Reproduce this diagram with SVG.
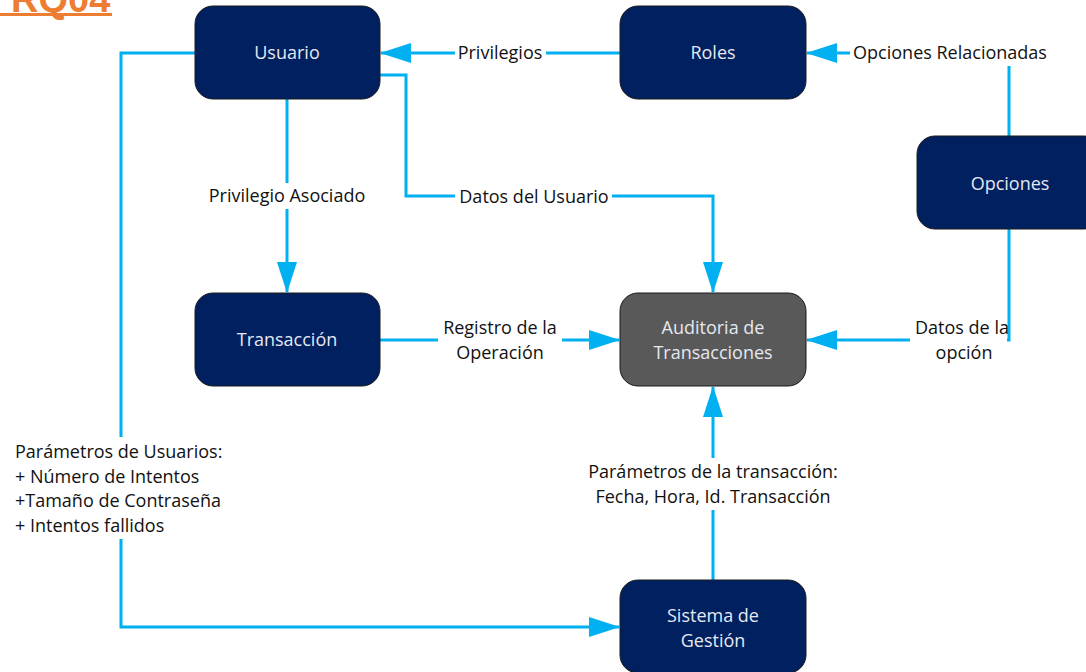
<svg xmlns="http://www.w3.org/2000/svg" width="1086" height="672" viewBox="0 0 1086 672">
<defs>
<marker id="ah" markerUnits="userSpaceOnUse" markerWidth="31" markerHeight="20" refX="30" refY="10" orient="auto">
<path d="M0,0 L31,10 L0,20 Z" fill="#00B0F0"/>
</marker>
<style>
.node{fill:#002060;stroke:#1a1a1a;stroke-width:1}
.gray{fill:#595959;stroke:#1a1a1a;stroke-width:1}
.nt{font-family:"Open Sans","Liberation Sans",sans-serif;font-size:18px;fill:#E6E8F0;text-anchor:middle}
.conn{fill:none;stroke:#00B0F0;stroke-width:3}
.lbg{fill:#ffffff}
.lt{font-family:"Open Sans","Liberation Sans",sans-serif;font-size:18px;fill:#111111;text-anchor:middle}
</style>
</defs>
<rect width="1086" height="672" fill="#ffffff"/>
<g id="title">
<text x="11" y="12" font-family="Liberation Sans, Arial, sans-serif" font-size="38" font-weight="bold" fill="#ED7D31">RQ04</text>
<rect x="0" y="13" width="112" height="3" fill="#ED7D31"/>
</g>
<g id="connectors">
<path class="conn" d="M620,53 L381,53" marker-end="url(#ah)"/>
<path class="conn" d="M1009,136 L1009,53 L807,53" marker-end="url(#ah)"/>
<path class="conn" d="M287,99 L287,292" marker-end="url(#ah)"/>
<path class="conn" d="M380,75 L406,75 L406,196 L713,196 L713,292" marker-end="url(#ah)"/>
<path class="conn" d="M380,340 L619,340" marker-end="url(#ah)"/>
<path class="conn" d="M1009,229 L1009,340 L807,340" marker-end="url(#ah)"/>
<path class="conn" d="M713,580 L713,387" marker-end="url(#ah)"/>
<path class="conn" d="M195,53 L121,53 L121,627 L619,627" marker-end="url(#ah)"/>
<g id="labels">
<rect class="lbg" x="455" y="40" width="91" height="26"/>
<text class="lt" x="500" y="59">Privilegios</text>
<rect class="lbg" x="850" y="40" width="200" height="26"/>
<text class="lt" x="950" y="59">Opciones Relacionadas</text>
<rect class="lbg" x="203" y="183" width="168" height="26"/>
<text class="lt" x="287" y="202">Privilegio Asociado</text>
<rect class="lbg" x="455" y="184" width="157" height="26"/>
<text class="lt" x="534" y="203">Datos del Usuario</text>
<rect class="lbg" x="438" y="314" width="124" height="52"/>
<text class="lt" x="500" y="334">Registro de la</text>
<text class="lt" x="500" y="359">Operación</text>
<rect class="lbg" x="910" y="314" width="97" height="52"/>
<text class="lt" x="962" y="334">Datos de la</text>
<text class="lt" x="964" y="359">opción</text>
<rect class="lbg" x="580" y="458" width="266" height="52"/>
<text class="lt" x="713" y="478">Parámetros de la transacción:</text>
<text class="lt" x="713" y="503">Fecha, Hora, Id. Transacción</text>
<rect class="lbg" x="10" y="437" width="222" height="102"/>
<text class="lt" style="text-anchor:start" x="15" y="458">Parámetros de Usuarios:</text>
<text class="lt" style="text-anchor:start" x="15" y="483">+ Número de Intentos</text>
<text class="lt" style="text-anchor:start" x="15" y="507">+Tamaño de Contraseña</text>
<text class="lt" style="text-anchor:start" x="15" y="532">+ Intentos fallidos</text>
</g>
</g>
<g id="usuario">
<rect class="node" x="195" y="6" width="185" height="93" rx="18"/>
<text class="nt" x="287" y="59">Usuario</text>
</g>
<g id="roles">
<rect class="node" x="620" y="6" width="186" height="93" rx="18"/>
<text class="nt" x="713" y="59">Roles</text>
</g>
<g id="opciones">
<rect class="node" x="917" y="136" width="185" height="93" rx="18"/>
<text class="nt" x="1010" y="190">Opciones</text>
</g>
<g id="transaccion">
<rect class="node" x="195" y="293" width="185" height="93" rx="18"/>
<text class="nt" x="287" y="346">Transacción</text>
</g>
<g id="auditoria">
<rect class="gray" x="620" y="293" width="186" height="93" rx="18"/>
<text class="nt" x="713" y="334">Auditoria de</text>
<text class="nt" x="713" y="359">Transacciones</text>
</g>
<g id="sistema">
<rect class="node" x="620" y="580" width="186" height="93" rx="18"/>
<text class="nt" x="713" y="622">Sistema de</text>
<text class="nt" x="713" y="647">Gestión</text>
</g>
</svg>
